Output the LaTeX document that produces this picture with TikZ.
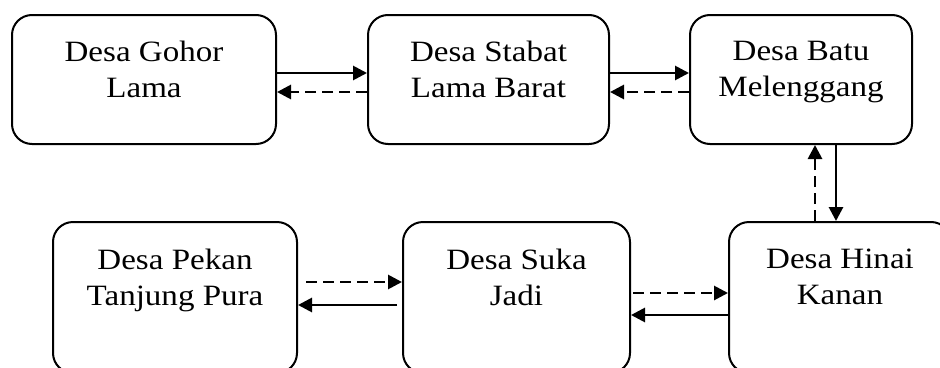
\documentclass[tikz,border=0pt]{standalone}
\usepackage{fontspec}
\setmainfont{Liberation Serif}[FakeStretch=1.12]
\usetikzlibrary{arrows.meta}
\begin{document}
\begin{tikzpicture}[x=1pt,y=-1pt,
  box/.style={draw, line width=2pt, rounded corners=20pt, inner sep=0pt, anchor=north west},
  txt/.style={anchor=north, align=center, inner sep=0pt, font=\fontsize{29.5}{35.5}\selectfont},
  link/.style={line width=2.8pt, -{Triangle[length=14pt,width=14pt]}},
  back/.style={link, dash pattern=on 11pt off 6pt}]
\useasboundingbox (0,0) rectangle (940,367);

% top row
\node[box, minimum width=264pt, minimum height=129pt] (b1) at (11,14) {};
\node[box, minimum width=241pt, minimum height=129pt] (b2) at (367,14) {};
\node[box, minimum width=222pt, minimum height=129pt] (b3) at (689,14) {};
% bottom row
\node[box, minimum width=244pt, minimum height=151pt] (b4) at (52,221) {};
\node[box, minimum width=227pt, minimum height=151pt] (b5) at (402,221) {};
\node[box, minimum width=222pt, minimum height=151pt] (b6) at (728,221) {};

% labels
\node[txt] (t1) at ([yshift=-27pt]b1.north) {Desa Gohor\\Lama};
\node[txt] (t2) at ([yshift=-27pt]b2.north) {Desa Stabat\\Lama Barat};
\node[txt] (t3) at ([yshift=-27pt]b3.north) {Desa Batu\\Melenggang};
\node[txt] (t4) at ([yshift=-28pt]b4.north) {Desa Pekan\\Tanjung Pura};
\node[txt] (t5) at ([yshift=-28pt]b5.north) {Desa Suka\\Jadi};
\node[txt] (t6) at ([yshift=-28pt]b6.north) {Desa Hinai\\Kanan};

% top row connectors
\draw[link] ([yshift=6.5pt]b1.east) -- ([yshift=6.5pt]b2.west);
\draw[back] ([yshift=-12.5pt]b2.west) -- ([yshift=-12.5pt]b1.east);
\draw[link] ([yshift=6.5pt]b2.east) -- ([yshift=6.5pt]b3.west);
\draw[back] ([yshift=-12.5pt]b3.west) -- ([yshift=-12.5pt]b2.east);

% vertical connectors
\draw[link] ([xshift=35pt]b3.south) -- ([xshift=35pt]b3.south |- b6.north);
\draw[back] ([xshift=14pt]b3.south |- b6.north) -- ([xshift=14pt]b3.south);

% bottom row connectors
\draw[back] ([xshift=2pt,yshift=4.5pt]b5.east) -- ([yshift=4.5pt]b6.west);
\draw[link] ([yshift=-17.5pt]b6.west) -- ([yshift=-17.5pt]b5.east);
\draw[back] ([xshift=8pt,yshift=15.5pt]b4.east) -- ([yshift=15.5pt]b5.west);
\draw[link] ([xshift=-5pt,yshift=-7.5pt]b5.west) -- ([yshift=-7.5pt]b4.east);
\end{tikzpicture}
\end{document}
